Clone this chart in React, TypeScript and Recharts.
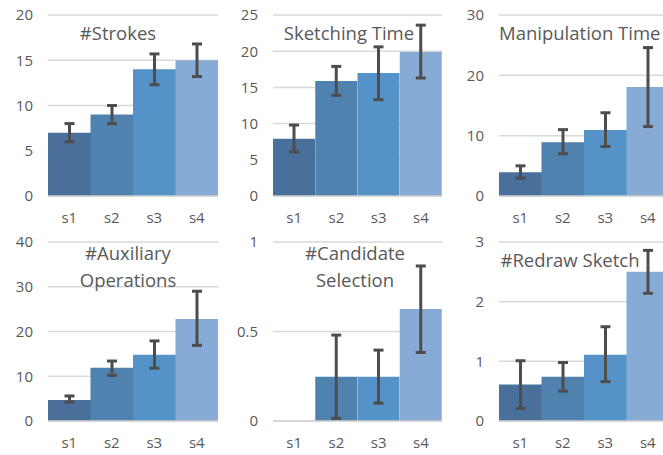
import React from "react";
import { BarChart, Bar, XAxis, YAxis, CartesianGrid, ErrorBar, Cell } from "recharts";

const categories = ["s1", "s2", "s3", "s4"];
const barColors = ["#48709a", "#5082b0", "#5592c8", "#86acd6"];

const strokesMean = [7, 9, 14, 15];
const strokesLow = [6, 8, 12.3, 13.2];
const strokesHigh = [8, 10, 15.7, 16.8];

const sketchMean = [7.9, 15.9, 17, 19.9];
const sketchLow = [6.1, 13.9, 13.3, 16.3];
const sketchHigh = [9.8, 17.9, 20.6, 23.6];

const manipMean = [3.95, 8.9, 10.95, 18.05];
const manipLow = [2.95, 7.0, 8.2, 11.5];
const manipHigh = [5.0, 11.0, 13.8, 24.6];

const auxMean = [4.7, 11.9, 14.8, 22.8];
const auxLow = [4.2, 10.2, 11.8, 16.9];
const auxHigh = [5.6, 13.4, 17.9, 29.0];

const candMean = [0, 0.247, 0.247, 0.626];
const candLow = [0, 0.015, 0.1, 0.383];
const candHigh = [0.008, 0.48, 0.396, 0.866];

const redrawMean = [0.61, 0.74, 1.11, 2.5];
const redrawLow = [0.21, 0.5, 0.66, 2.14];
const redrawHigh = [1.01, 0.98, 1.58, 2.86];

const ticks1 = [0, 5, 10, 15, 20];
const ticks2 = [0, 5, 10, 15, 20, 25];
const ticks3 = [0, 10, 20, 30];
const ticks4 = [0, 10, 20, 30, 40];
const ticks5 = [0, 0.5, 1];
const ticks6 = [0, 1, 2, 3];

const FONT = "'Open Sans', sans-serif";
const TEXT = "#595959";

function build(mean: number[], low: number[], high: number[]) {
  return categories.map((c, i) => ({
    name: c,
    v: mean[i],
    err: [mean[i] - low[i], high[i] - mean[i]],
  }));
}

type PanelProps = {
  left: number;
  top: number;
  height: number;
  chartWidth: number;
  yWidth: number;
  marginTop: number;
  xHeight: number;
  ticks: number[];
  mean: number[];
  low: number[];
  high: number[];
  titles: { text: string; x: number; y: number; anchor?: string }[];
};

function Panel(p: PanelProps) {
  const data = build(p.mean, p.low, p.high);
  const max = p.ticks[p.ticks.length - 1];
  return (
    <div
      style={{
        position: "absolute",
        left: p.left,
        top: p.top,
        width: 221,
        height: p.height,
        overflow: "hidden",
      }}
    >
      <BarChart
        width={p.chartWidth}
        height={p.height}
        data={data}
        margin={{ top: p.marginTop, right: 0, bottom: 0, left: 0 }}
        barCategoryGap={0}
        barGap={0}
      >
        <CartesianGrid vertical={false} stroke="#d9d9d9" strokeWidth={1.5} />
        <XAxis
          dataKey="name"
          height={p.xHeight}
          tickLine={false}
          tickSize={0}
          tickMargin={16}
          axisLine={{ stroke: "#d0d0d0", strokeWidth: 1.5 }}
          tick={{ fill: TEXT, fontSize: 15, fontFamily: FONT }}
        />
        <YAxis
          width={p.yWidth}
          domain={[0, max]}
          ticks={p.ticks}
          interval={0}
          axisLine={false}
          tickLine={false}
          tickSize={0}
          tickMargin={15}
          tick={{ fill: TEXT, fontSize: 15, fontFamily: FONT }}
        />
        <Bar dataKey="v" isAnimationActive={false}>
          {data.map((d, i) => (
            <Cell key={d.name} fill={barColors[i]} />
          ))}
          <ErrorBar dataKey="err" width={5} strokeWidth={3} stroke="#4d4d4d" />
        </Bar>
      </BarChart>
      {p.titles.map((t) => (
        <div
          key={t.text}
          style={{
            position: "absolute",
            left: t.anchor === "start" ? t.x : t.x - 150,
            width: 300,
            top: t.y - 13,
            height: 26,
            lineHeight: "26px",
            textAlign: t.anchor === "start" ? "left" : "center",
            fontFamily: FONT,
            fontSize: 18.5,
            color: TEXT,
            whiteSpace: "nowrap",
            pointerEvents: "none",
          }}
        >
          {t.text}
        </div>
      ))}
    </div>
  );
}

export default function App() {
  return (
    <div
      style={{
        position: "absolute",
        left: 0,
        top: 0,
        width: 663,
        height: 455,
        background: "#ffffff",
        overflow: "hidden",
      }}
    >
      <Panel
        left={0}
        top={0}
        height={228}
        chartWidth={218}
        yWidth={48}
        marginTop={15}
        xHeight={32}
        ticks={ticks1}
        mean={strokesMean}
        low={strokesLow}
        high={strokesHigh}
        titles={[{ text: "#Strokes", x: 118, y: 33 }]}
      />
      <Panel
        left={221}
        top={0}
        height={228}
        chartWidth={221}
        yWidth={52}
        marginTop={15}
        xHeight={32}
        ticks={ticks2}
        mean={sketchMean}
        low={sketchLow}
        high={sketchHigh}
        titles={[{ text: "Sketching Time", x: 128, y: 33 }]}
      />
      <Panel
        left={442}
        top={0}
        height={228}
        chartWidth={227}
        yWidth={57}
        marginTop={15}
        xHeight={32}
        ticks={ticks3}
        mean={manipMean}
        low={manipLow}
        high={manipHigh}
        titles={[{ text: "Manipulation Time", x: 57, y: 33, anchor: "start" }]}
      />
      <Panel
        left={0}
        top={228}
        height={227}
        chartWidth={218}
        yWidth={48}
        marginTop={14}
        xHeight={34}
        ticks={ticks4}
        mean={auxMean}
        low={auxLow}
        high={auxHigh}
        titles={[
          { text: "#Auxiliary", x: 128, y: 25 },
          { text: "Operations", x: 128, y: 52 },
        ]}
      />
      <Panel
        left={221}
        top={228}
        height={227}
        chartWidth={221}
        yWidth={52}
        marginTop={14}
        xHeight={34}
        ticks={ticks5}
        mean={candMean}
        low={candLow}
        high={candHigh}
        titles={[
          { text: "#Candidate", x: 134, y: 25 },
          { text: "Selection", x: 134, y: 52 },
        ]}
      />
      <Panel
        left={442}
        top={228}
        height={227}
        chartWidth={227}
        yWidth={57}
        marginTop={14}
        xHeight={34}
        ticks={ticks6}
        mean={redrawMean}
        low={redrawLow}
        high={redrawHigh}
        titles={[{ text: "#Redraw Sketch", x: 128, y: 32 }]}
      />
    </div>
  );
}
